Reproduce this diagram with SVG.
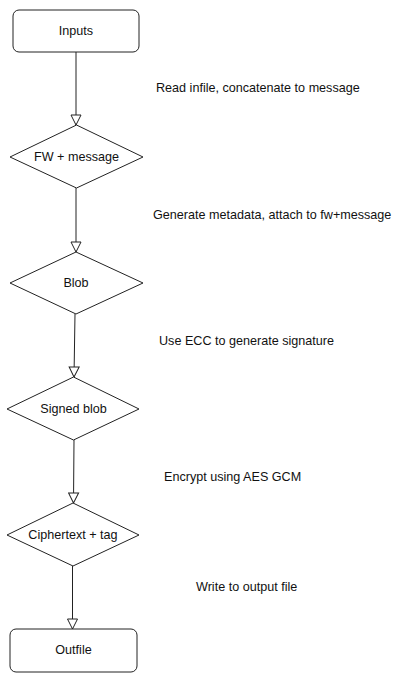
<svg xmlns="http://www.w3.org/2000/svg" width="404" height="685" viewBox="0 0 404 685">
<style>
.n{fill:#fff;stroke:#222;stroke-width:1}
.t{font-family:"Liberation Sans",Arial,sans-serif;font-size:12.6px;fill:#111;text-anchor:middle;dominant-baseline:central}
.l{font-family:"Liberation Sans",Arial,sans-serif;font-size:12.6px;fill:#111;dominant-baseline:central}
.c{fill:none;stroke:#222;stroke-width:1}
</style>
<defs>
<marker id="a" markerWidth="12" markerHeight="12" viewBox="0 0 12 12" refX="11" refY="6" orient="auto" markerUnits="userSpaceOnUse">
<path d="M1,1 L11,6 L1,11 Z" fill="#fff" stroke="#222" stroke-width="1"/>
</marker>
</defs>
<rect width="404" height="685" fill="#fff"/>
<g id="connectors">
<line class="c" x1="76" y1="52" x2="76" y2="125" marker-end="url(#a)"/>
<line class="c" x1="76" y1="188" x2="76" y2="252" marker-end="url(#a)"/>
<line class="c" x1="75" y1="314" x2="74" y2="377" marker-end="url(#a)"/>
<line class="c" x1="74" y1="440" x2="73.5" y2="503" marker-end="url(#a)"/>
<line class="c" x1="72.5" y1="566" x2="72.5" y2="629" marker-end="url(#a)"/>
</g>
<g id="inputs">
<rect class="n" x="13" y="10" width="126" height="42" rx="6"/>
<text class="t" x="76" y="31">Inputs</text>
</g>
<g id="fw-message">
<polygon class="n" points="76.5,125 143,157 76.5,188 10,157"/>
<text class="t" x="76.5" y="157">FW + message</text>
</g>
<g id="blob">
<polygon class="n" points="76,252 143,283 76,314 10,283"/>
<text class="t" x="76" y="283">Blob</text>
</g>
<g id="signed-blob">
<polygon class="n" points="73.5,377 139,409 73.5,440 7,409"/>
<text class="t" x="73.5" y="409">Signed blob</text>
</g>
<g id="ciphertext">
<polygon class="n" points="73,503 139,535 73,566 7,535"/>
<text class="t" x="73" y="535">Ciphertext + tag</text>
</g>
<g id="outfile">
<rect class="n" x="10" y="629" width="127" height="43" rx="6"/>
<text class="t" x="73.5" y="650">Outfile</text>
</g>
<g id="labels">
<text class="l" x="156" y="88">Read infile, concatenate to message</text>
<text class="l" x="153" y="215">Generate metadata, attach to fw+message</text>
<text class="l" x="159" y="341">Use ECC to generate signature</text>
<text class="l" x="164" y="477">Encrypt using AES GCM</text>
<text class="l" x="196" y="587">Write to output file</text>
</g>
</svg>
